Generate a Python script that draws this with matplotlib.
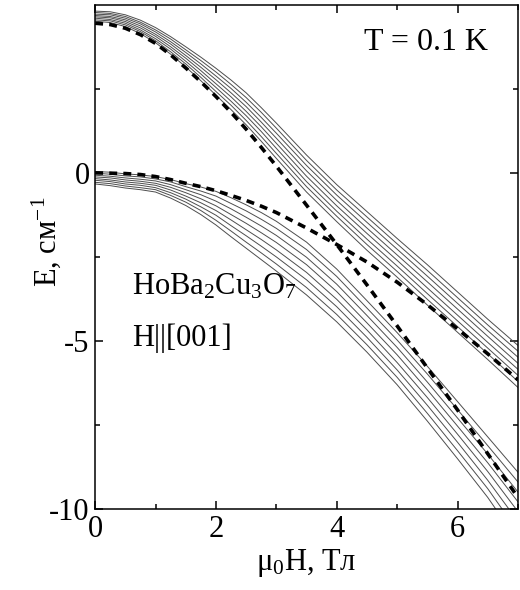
import matplotlib
matplotlib.use("Agg")
import matplotlib.pyplot as plt
from matplotlib.ticker import FixedLocator

plt.rcParams['font.family'] = ['Liberation Serif', 'DejaVu Serif']
plt.rcParams['mathtext.fontset'] = 'custom'
plt.rcParams['mathtext.rm'] = 'Liberation Serif'
plt.rcParams['mathtext.it'] = 'Liberation Serif:italic'
plt.rcParams['axes.unicode_minus'] = False

# field values (T)
field = [0, 0.25, 0.5, 0.75, 1, 1.25, 1.5, 1.75, 2, 2.25, 2.5, 2.75, 3, 3.5, 4, 4.5, 5, 5.5, 6, 6.5, 7]

# electronic levels without hyperfine interaction (dashed)
dashed_upper = [4.45, 4.41, 4.30, 4.11, 3.85, 3.51, 3.12, 2.71, 2.27, 1.80, 1.30, 0.76, 0.20, -0.96, -2.13, -3.33, -4.55, -5.80, -7.05, -8.35, -9.65]
dashed_lower = [0.00, -0.01, -0.02, -0.05, -0.11, -0.20, -0.31, -0.41, -0.53, -0.67, -0.82, -0.99, -1.18, -1.64, -2.13, -2.65, -3.25, -3.92, -4.64, -5.38, -6.15]

# hyperfine levels, upper group
up1 = [4.81, 4.79, 4.70, 4.54, 4.32, 4.05, 3.75, 3.44, 3.11, 2.76, 2.38, 1.94, 1.48, 0.53, -0.35, -1.15, -1.95, -2.73, -3.54, -4.35, -5.13]
up2 = [4.77, 4.74, 4.65, 4.48, 4.25, 3.98, 3.66, 3.34, 3.00, 2.63, 2.24, 1.80, 1.33, 0.37, -0.51, -1.31, -2.11, -2.90, -3.71, -4.52, -5.30]
up3 = [4.72, 4.70, 4.60, 4.43, 4.19, 3.90, 3.58, 3.24, 2.88, 2.51, 2.10, 1.65, 1.18, 0.22, -0.66, -1.47, -2.27, -3.07, -3.88, -4.69, -5.48]
up4 = [4.68, 4.65, 4.55, 4.37, 4.12, 3.83, 3.49, 3.14, 2.77, 2.38, 1.97, 1.51, 1.03, 0.06, -0.82, -1.64, -2.44, -3.24, -4.05, -4.86, -5.66]
up5 = [4.64, 4.61, 4.50, 4.31, 4.06, 3.75, 3.41, 3.04, 2.65, 2.26, 1.83, 1.37, 0.88, -0.10, -0.98, -1.80, -2.60, -3.42, -4.23, -5.04, -5.84]
up6 = [4.60, 4.56, 4.45, 4.25, 3.99, 3.68, 3.32, 2.94, 2.54, 2.13, 1.70, 1.23, 0.73, -0.26, -1.14, -1.97, -2.77, -3.59, -4.40, -5.21, -6.02]
up7 = [4.55, 4.52, 4.40, 4.20, 3.93, 3.60, 3.24, 2.84, 2.42, 2.01, 1.56, 1.08, 0.58, -0.41, -1.29, -2.13, -2.93, -3.76, -4.57, -5.38, -6.20]
up8 = [4.51, 4.47, 4.35, 4.14, 3.87, 3.53, 3.15, 2.74, 2.31, 1.88, 1.43, 0.94, 0.43, -0.57, -1.45, -2.30, -3.10, -3.93, -4.74, -5.55, -6.38]

# hyperfine levels, lower group
lo1 = [0.04, 0.02, -0.03, -0.06, -0.11, -0.20, -0.32, -0.42, -0.55, -0.74, -0.95, -1.18, -1.44, -2.06, -2.86, -3.80, -4.75, -5.75, -6.80, -7.85, -8.90]
lo2 = [-0.01, -0.04, -0.09, -0.12, -0.18, -0.27, -0.41, -0.54, -0.69, -0.91, -1.13, -1.38, -1.65, -2.28, -3.08, -4.02, -4.97, -5.98, -7.04, -8.11, -9.19]
lo3 = [-0.07, -0.10, -0.15, -0.19, -0.24, -0.35, -0.50, -0.65, -0.84, -1.07, -1.32, -1.58, -1.86, -2.51, -3.31, -4.24, -5.19, -6.22, -7.29, -8.36, -9.49]
lo4 = [-0.12, -0.15, -0.21, -0.25, -0.31, -0.43, -0.59, -0.77, -0.98, -1.24, -1.50, -1.78, -2.07, -2.73, -3.53, -4.46, -5.41, -6.45, -7.53, -8.62, -9.78]
lo5 = [-0.17, -0.21, -0.27, -0.31, -0.37, -0.51, -0.69, -0.89, -1.12, -1.40, -1.69, -1.98, -2.29, -2.96, -3.76, -4.67, -5.64, -6.68, -7.77, -8.88, -10.07]
lo6 = [-0.22, -0.26, -0.33, -0.37, -0.44, -0.59, -0.78, -1.01, -1.26, -1.57, -1.87, -2.18, -2.50, -3.18, -3.98, -4.89, -5.86, -6.91, -8.01, -9.14, -10.36]
lo7 = [-0.28, -0.32, -0.39, -0.44, -0.50, -0.67, -0.87, -1.12, -1.41, -1.73, -2.06, -2.38, -2.71, -3.41, -4.21, -5.11, -6.08, -7.15, -8.26, -9.39, -10.66]
lo8 = [-0.33, -0.38, -0.45, -0.50, -0.57, -0.75, -0.97, -1.24, -1.55, -1.90, -2.24, -2.58, -2.92, -3.63, -4.43, -5.33, -6.30, -7.38, -8.50, -9.65, -10.95]

x_major = [0, 2, 4, 6]
x_minor = [1, 3, 5, 7]
y_major = [-10, -5, 0]
y_minor = [-7.5, -2.5, 2.5]

fig = plt.figure(figsize=(5.2, 5.9), dpi=100)
ax = fig.add_axes([0.183, 0.137, 0.813, 0.855])

for lev in [up1, up2, up3, up4, up5, up6, up7, up8, lo1, lo2, lo3, lo4, lo5, lo6, lo7, lo8]:
    ax.plot(field, lev, color='0.3', lw=0.7)

for lev in [dashed_upper, dashed_lower]:
    ax.plot(field, lev, color='black', lw=2.6, dashes=(2.2, 1.7))

ax.set_xlim(0, 7)
ax.set_ylim(-10, 5)
ax.xaxis.set_major_locator(FixedLocator(x_major))
ax.xaxis.set_minor_locator(FixedLocator(x_minor))
ax.yaxis.set_major_locator(FixedLocator(y_major))
ax.yaxis.set_minor_locator(FixedLocator(y_minor))
ax.set_xticklabels([str(v) for v in x_major])
ax.set_yticklabels([str(v) for v in y_major])
ax.tick_params(which='both', direction='in', top=True, right=True, width=1.1)
ax.tick_params(which='major', length=6, labelsize=22, pad=4)
ax.tick_params(which='minor', length=3.5)
for s in ax.spines.values():
    s.set_linewidth(1.1)

ax.set_xlabel('μ$_0$H, Тл', fontsize=22, labelpad=2)
ax.set_ylabel('E, см$^{-1}$', fontsize=22)
ax.yaxis.set_label_coords(-0.075, 0.53)

ax.text(0.635, 0.925, 'T = 0.1 K', transform=ax.transAxes, fontsize=23, va='center', ha='left')
ax.text(0.088, 0.44, r'HoBa$_2$Cu$_3$O$_7$', transform=ax.transAxes, fontsize=22, va='center', ha='left')
ax.text(0.088, 0.338, 'H||[001]', transform=ax.transAxes, fontsize=22, va='center', ha='left')

fig.savefig('out.png', dpi=100)
